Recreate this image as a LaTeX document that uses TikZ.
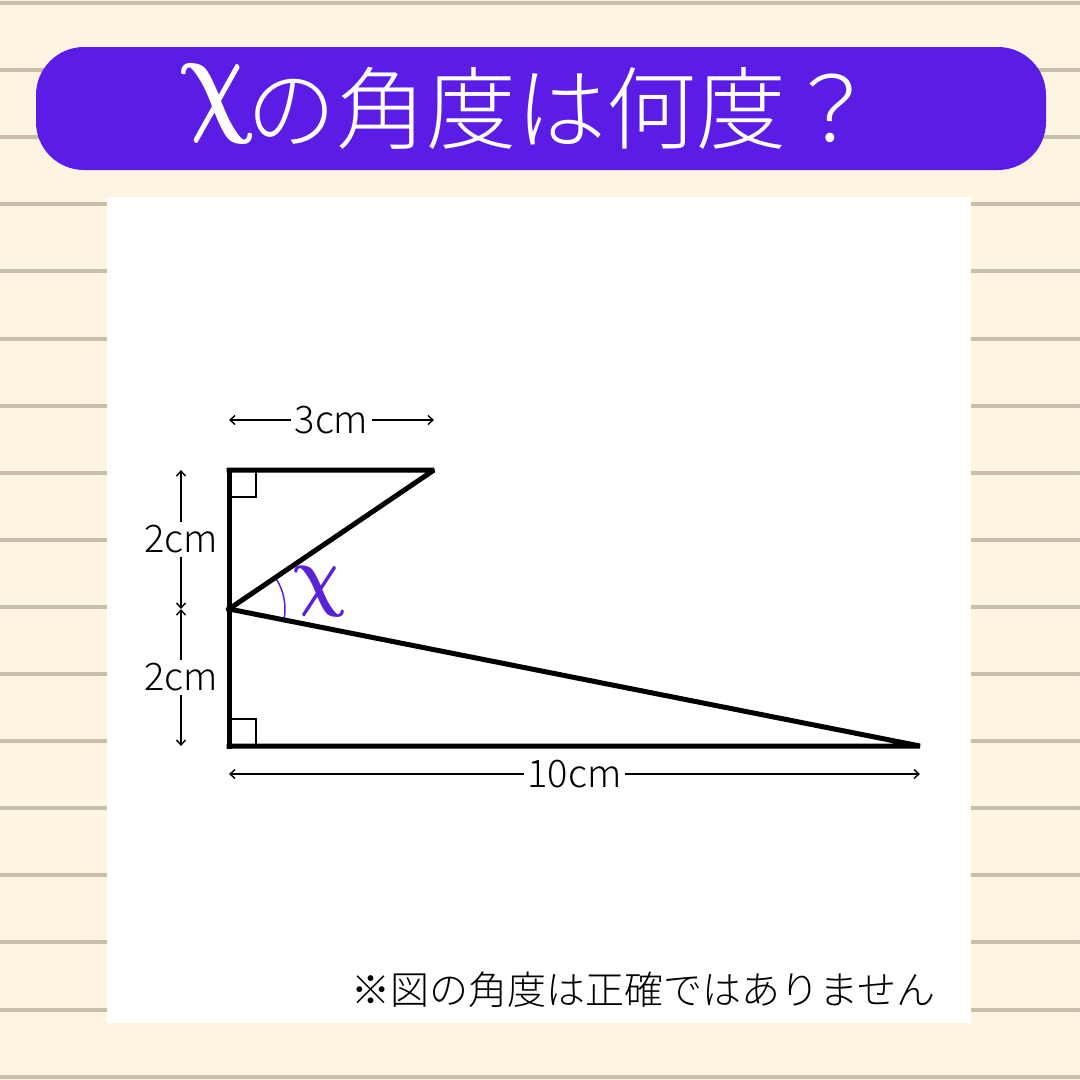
\documentclass[tikz,border=0pt]{standalone}
\usepackage{fontspec}
\usepackage{graphicx}
\newfontfamily\jp{Noto Sans CJK JP Light}
\usetikzlibrary{arrows.meta,calc}
\definecolor{bg}{HTML}{FDF5E1}
\definecolor{rulec}{HTML}{C9BFA8}
\definecolor{ban}{HTML}{5B1CE6}
\definecolor{chic}{HTML}{5A22D8}
\tikzset{
  shape line/.style={line width=5pt, line cap=rect},
  dimline/.style={line width=1.4pt, {Straight Barb[length=5pt,width=9pt]}-{Straight Barb[length=5pt,width=9pt]}},
  dimlabel/.style={fill=white, inner sep=4pt, font=\jp\fontsize{38}{38}\selectfont},
  rightmark/.style={line width=1.5pt},
  chisym/.style={inner sep=0pt, transform shape},
}
\newcommand{\boldchi}{{\boldmath$\chi$}}
\begin{document}
\begin{tikzpicture}[x=1pt,y=-1pt]
\useasboundingbox (0,0) rectangle (1080,1080);
\fill[bg] (0,0) rectangle (1080,1080);
\foreach \k in {0,...,16} \fill[rulec] (0,{1+67.1*\k}) rectangle (1080,{5+67.1*\k});
% banner
\fill[ban, rounded corners=48pt] (36,47) rectangle (1046,170);
\begin{scope}[shift={(217,104)}, xslant=-0.2]
  \node[chisym, text=white] (titlechi) at (0,0) {\scalebox{9.4}[12.4]{\boldchi}};
\end{scope}
\node[text=white, inner sep=0pt, anchor=west] (title) at (246,108)
  {\jp\fontsize{90}{90}\selectfont の角度は何度？};
% panel
\fill[white] (107,197) rectangle (971,1023);
% points
\coordinate (A) at (229,470);
\coordinate (B) at (434,470);
\coordinate (M) at (229,609);
\coordinate (C) at (229,746);
\coordinate (D) at (920,746);
% right angle marks
\draw[rightmark] (229,497) -- (256,497) -- (256,470);
\draw[rightmark] (229,719) -- (256,719) -- (256,746);
% angle arc
\draw[chic, line width=1.5pt] ($(M)+(-33.69:56)$) arc[start angle=-33.69, end angle=11.31, radius=56];
\begin{scope}[shift={(320,592)}, xslant=-0.2]
  \node[chisym, text=chic] (xlabel) at (0,0) {\scalebox{6.7}[7.9]{\boldchi}};
\end{scope}
% shape
\draw[shape line, line join=miter] (A) -- (C);
\draw[shape line, line join=bevel] (A) -- (B) -- (M);
\draw[shape line, line join=bevel] (M) -- (D) -- (C);
% dimensions
\coordinate (t1) at (229,420); \coordinate (t2) at (434,420);
\draw[dimline] (t1) -- node[dimlabel] (l3) {3cm} (t2);
\coordinate (v1) at (181,470); \coordinate (v2) at (181,609); \coordinate (v3) at (181,746);
\draw[dimline] (v1) -- node[dimlabel] (l2a) {2cm} (v2);
\draw[dimline] (v2) -- node[dimlabel] (l2b) {2cm} (v3);
\coordinate (h1) at (229,774); \coordinate (h2) at (920,774);
\draw[dimline] (h1) -- node[dimlabel] (l10) {10cm} (h2);
% note
\node[anchor=east, inner sep=0pt] (note) at (936,990) {\jp\fontsize{39}{39}\selectfont ※図の角度は正確ではありません};
\end{tikzpicture}
\end{document}
